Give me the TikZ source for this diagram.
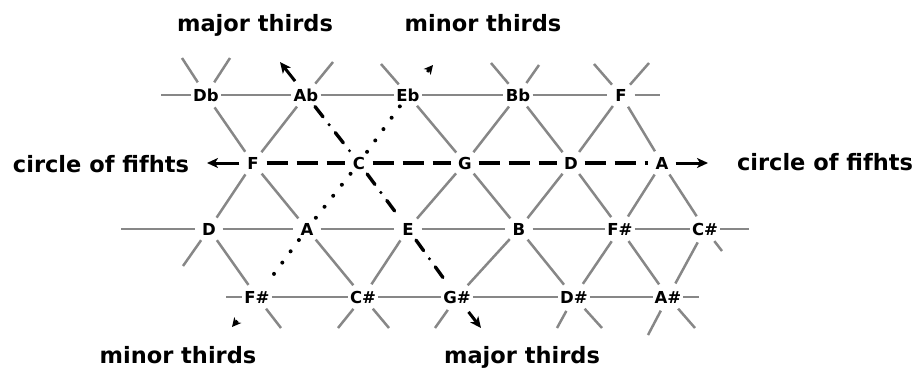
\documentclass[tikz,border=0pt]{standalone}
\usepackage{fontspec}
\setmainfont{DejaVu Sans}
\usetikzlibrary{arrows.meta}
\begin{document}
\begin{tikzpicture}[x=1pt,y=-1pt,
  nd/.style={circle,inner sep=0.5pt,minimum size=27pt,font=\fontsize{16.5}{16.5}\selectfont\bfseries},
  grid/.style={draw=black!47,line width=2.5pt},
  fifths/.style={draw=black,line width=3.4pt,dash pattern=on 21pt off 9pt},
  majt/.style={draw=black,line width=3.4pt,line cap=round,dash pattern=on 13pt off 10pt on 0pt off 10pt},
  mint/.style={draw=black,line width=4pt,line cap=round,dash pattern=on 0pt off 14pt},
  arr/.style={draw=black,line width=3pt,-{Stealth[length=11pt,width=10pt,inset=3pt]}},
  sarr/.style={draw=black,line width=2.6pt,-{Stealth[length=9pt,width=9pt,inset=2.5pt]}},
  ttl/.style={font=\fontsize{22.5}{22.5}\selectfont\bfseries,anchor=base,inner sep=0pt}]
\useasboundingbox (0,0) rectangle (919,375);
% row 1
\node[nd] (Db) at (206,95) {Db};
\node[nd] (Ab) at (306,95) {Ab};
\node[nd] (Eb) at (408,95) {Eb};
\node[nd] (Bb) at (518,95) {Bb};
\node[nd] (F1) at (621,95) {F};
% row 2
\node[nd] (F2) at (253,163) {F};
\node[nd] (C) at (359,163) {C};
\node[nd] (G) at (465,163) {G};
\node[nd] (D2) at (571,163) {D};
\node[nd] (A2) at (662,163) {A};
% row 3
\node[nd] (D3) at (209,229) {D};
\node[nd] (A3) at (307,229) {A};
\node[nd] (E) at (408,229) {E};
\node[nd] (B) at (519,229) {B};
\node[nd] (Fs3) at (620,229) {F\#};
\node[nd] (Cs3) at (705,229) {C\#};
% row 4
\node[nd] (Fs4) at (257,297) {F\#};
\node[nd] (Cs4) at (363,297) {C\#};
\node[nd] (Gs) at (457,297) {G\#};
\node[nd] (Ds) at (574,297) {D\#};
\node[nd] (As) at (668,297) {A\#};
% free ends
\coordinate (r1l) at (161,95);
\coordinate (r1r) at (660,95);
\coordinate (r3l) at (121,229);
\coordinate (r3r) at (749,229);
\coordinate (r4l) at (226,297);
\coordinate (r4r) at (699,297);
% gray lattice
\draw[grid] (r1l) -- (Db) -- (Ab) -- (Eb) -- (Bb) -- (F1) -- (r1r);
\draw[grid] (Db) -- ++(-24,-37);
\draw[grid] (Db) -- ++(24,-37);
\draw[grid] (Ab) -- ++(27,-33);
\draw[grid] (Eb) -- ++(-27,-31);
\draw[grid] (Bb) -- ++(-27,-32);
\draw[grid] (Bb) -- ++(21,-30);
\draw[grid] (F1) -- ++(-27,-31);
\draw[grid] (F1) -- ++(28,-32);
\draw[grid] (Db) -- (F2);
\draw[grid] (Ab) -- (F2);
\draw[grid] (Eb) -- (G);
\draw[grid] (Bb) -- (G);
\draw[grid] (Bb) -- (D2);
\draw[grid] (F1) -- (D2);
\draw[grid] (F1) -- (A2);
\draw[grid] (F2) -- (D3);
\draw[grid] (F2) -- (A3);
\draw[grid] (G) -- (E);
\draw[grid] (G) -- (B);
\draw[grid] (D2) -- (B);
\draw[grid] (D2) -- (Fs3);
\draw[grid] (A2) -- (Fs3);
\draw[grid] (A2) -- (Cs3);
\draw[grid] (r3l) -- (D3) -- (A3) -- (E) -- (B) -- (Fs3) -- (Cs3) -- (r3r);
\draw[grid] (D3) -- ++(-26,37);
\draw[grid] (Cs3) -- ++(17,22);
\draw[grid] (D3) -- (Fs4);
\draw[grid] (A3) -- (Cs4);
\draw[grid] (E) -- (Cs4);
\draw[grid] (B) -- (Gs);
\draw[grid] (B) -- (Ds);
\draw[grid] (Fs3) -- (Ds);
\draw[grid] (Fs3) -- (As);
\draw[grid] (Cs3) -- (As);
\draw[grid] (r4l) -- (Fs4) -- (Cs4) -- (Gs) -- (Ds) -- (As) -- (r4r);
\draw[grid] (Fs4) -- ++(24,31);
\draw[grid] (Cs4) -- ++(-25,31);
\draw[grid] (Cs4) -- ++(26,31);
\draw[grid] (Gs) -- ++(-22,31);
\draw[grid] (Ds) -- ++(-17,31);
\draw[grid] (Ds) -- ++(28,31);
\draw[grid] (As) -- ++(-20,38);
\draw[grid] (As) -- ++(27,31);
% circle of fifths
\draw[fifths] (F2) -- (C);
\draw[fifths] (C) -- (G);
\draw[fifths] (G) -- (D2);
\draw[fifths] (D2) -- (A2);
\draw[arr] (F2) -- ++(-46,0);
\draw[arr] (A2) -- ++(46,0);
% major thirds
\draw[majt] (Ab) -- (C);
\draw[majt] (C) -- (E);
\draw[majt] (E) -- (Gs);
\draw[arr,shorten <=3pt] (Ab) -- ++(-26,-33);
\draw[arr,shorten <=3pt] (Gs) -- ++(24,31);
% minor thirds
\draw[mint] (Eb) -- (C);
\draw[mint] (C) -- (A3);
\draw[mint] (A3) -- (Fs4);
\draw[sarr,shorten <=16pt] (Eb) -- ++(25,-30);
\draw[sarr,shorten <=16pt] (Fs4) -- ++(-25,30);
% titles
\node[ttl] (t1) at (255,31) {major thirds};
\node[ttl] (t2) at (483,31) {minor thirds};
\node[ttl] (t3) at (101,172) {circle of fifhts};
\node[ttl] (t4) at (825,170) {circle of fifhts};
\node[ttl] (t5) at (178,363) {minor thirds};
\node[ttl] (t6) at (522,363) {major thirds};
\end{tikzpicture}
\end{document}
